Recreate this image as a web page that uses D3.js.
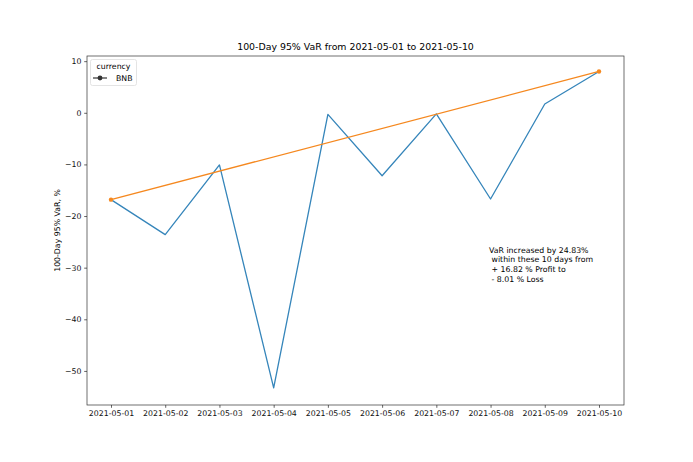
<!DOCTYPE html>
<html>
<head>
<meta charset="utf-8">
<script src="https://cdn.jsdelivr.net/npm/d3@7"></script>
<style>
body{margin:0;background:#fff;}
text{font-family:"DejaVu Sans",sans-serif;}
</style>
</head>
<body>
<svg id="chart" width="693" height="462"></svg>
<script>
const dates = ["2021-05-01","2021-05-02","2021-05-03","2021-05-04","2021-05-05","2021-05-06","2021-05-07","2021-05-08","2021-05-09","2021-05-10"];
const varValues = [-16.82,-23.6,-10.1,-53.3,-0.3,-12.2,-0.2,-16.7,1.7,8.01];
const trendDates = ["2021-05-01","2021-05-10"];
const trendValues = [-16.82,8.01];
const yTicks = [10,0,-10,-20,-30,-40,-50];
const annotation = ["VaR increased by 24.83%"," within these 10 days from"," + 16.82 % Profit to"," - 8.01 % Loss"];

const svg = d3.select("#chart");
const m = {left:87,right:624,top:56,bottom:405};
const x = d3.scalePoint().domain(dates).range([111,599]);
const y = d3.scaleLinear().domain([-56.6,11.0]).range([m.bottom,m.top]);
const fs = 7.8;

const xa = svg.append("g").attr("transform",`translate(0,${m.bottom})`)
  .call(d3.axisBottom(x).tickSize(2.8).tickPadding(2.8));
const ya = svg.append("g").attr("transform",`translate(${m.left},0)`)
  .call(d3.axisLeft(y).tickValues(yTicks).tickSize(2.8).tickPadding(2.8).tickFormat(d=>d<0?"\u2212"+Math.abs(d):d));
[xa,ya].forEach(a=>{a.select(".domain").remove();a.selectAll("text").attr("font-size",fs).attr("fill","#111").attr("font-family","DejaVu Sans");a.selectAll("line").attr("stroke","#222").attr("stroke-width",0.7);});

svg.append("rect").attr("x",m.left).attr("y",m.top).attr("width",m.right-m.left).attr("height",m.bottom-m.top)
  .attr("fill","none").attr("stroke","#333").attr("stroke-width",0.7);

const line = d3.line().x(d=>x(d[0])).y(d=>y(d[1]));
svg.append("path").datum(dates.map((d,i)=>[d,varValues[i]])).attr("d",line)
  .attr("fill","none").attr("stroke","#3585ba").attr("stroke-width",1.3).attr("stroke-linejoin","round");
svg.append("path").datum(trendDates.map((d,i)=>[d,trendValues[i]])).attr("d",line)
  .attr("fill","none").attr("stroke","#f5881f").attr("stroke-width",1.3);
svg.selectAll(".tdot").data(trendDates.map((d,i)=>[d,trendValues[i]])).enter().append("circle")
  .attr("cx",d=>x(d[0])).attr("cy",d=>y(d[1])).attr("r",2.2).attr("fill","#f5881f");

svg.append("text").attr("x",(m.left+m.right)/2).attr("y",m.top-6).attr("text-anchor","middle")
  .attr("font-size",9.4).text("100-Day 95% VaR from 2021-05-01 to 2021-05-10");
svg.append("text").attr("transform",`translate(60,${(m.top+m.bottom)/2}) rotate(-90)`).attr("text-anchor","middle")
  .attr("font-size",fs).text("100-Day 95% VaR, %");

const ax = x(dates[7])-1.5;
const an = svg.append("text").attr("font-size",fs).attr("x",ax).attr("y",y(-27.1));
annotation.forEach((t,i)=>an.append("tspan").attr("x",ax).attr("dy",i?9.7:0).style("white-space","pre").text(t));

const lg = svg.append("g");
lg.append("rect").attr("x",90.5).attr("y",59.5).attr("width",46).attr("height",26).attr("rx",2)
  .attr("fill","#fff").attr("stroke","#ddd").attr("stroke-width",0.8);
lg.append("text").attr("x",113.5).attr("y",69).attr("text-anchor","middle").attr("font-size",fs).text("currency");
lg.append("line").attr("x1",93).attr("x2",107).attr("y1",78).attr("y2",78).attr("stroke","#333").attr("stroke-width",1.2);
lg.append("circle").attr("cx",100).attr("cy",78).attr("r",2.4).attr("fill","#333");
lg.append("text").attr("x",116).attr("y",81).attr("font-size",fs).text("BNB");
</script>
</body>
</html>
